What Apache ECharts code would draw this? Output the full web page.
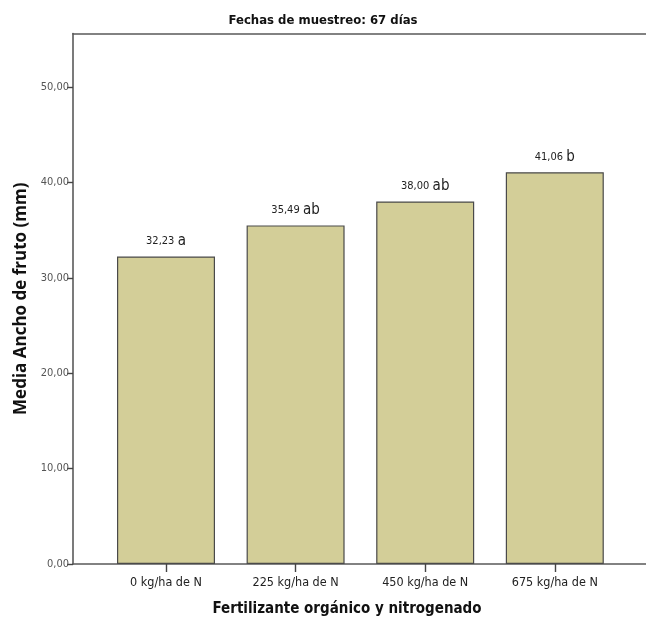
<!DOCTYPE html>
<html>
<head>
<meta charset="utf-8">
<script src="https://cdn.jsdelivr.net/npm/echarts@6/dist/echarts.min.js"></script>
<style>
  html, body { margin: 0; padding: 0; background: #fff; }
  #chart { width: 646px; height: 624px; }
</style>
</head>
<body>
<div id="chart"></div>
<script>
// Mean fruit width by fertilizer dose (67 days)
const categories = ['0 kg/ha de N', '225 kg/ha de N', '450 kg/ha de N', '675 kg/ha de N'];
const meanWidth = [32.23, 35.49, 38.00, 41.06];
const groupLetters = ['a', 'ab', 'ab', 'b'];
const yTicks = [0, 10, 20, 30, 40, 50];

const NARROW = '"Liberation Sans Narrow", "DejaVu Sans Condensed", "Liberation Sans", sans-serif';
const fmt = v => v.toFixed(2).replace('.', ',');

const yMax = 55.6;
const plotTop = 33.5;
const plotBottom = 60;

const chart = echarts.init(document.getElementById('chart'));
chart.setOption({
  animation: false,
  backgroundColor: '#ffffff',
  title: [
    {
      text: 'Fechas de muestreo: 67 días',
      left: 'center',
      top: 9,
      textStyle: { fontFamily: NARROW, fontSize: 13, fontWeight: 'bold', color: '#111' }
    },
    { // x-axis caption
      text: 'Fertilizante orgánico y nitrogenado',
      left: 342,
      textAlign: 'center',
      top: 597,
      textStyle: { fontFamily: NARROW, fontSize: 15, fontWeight: 'bold', color: '#111' }
    }
  ],
  grid: [
    { left: 73, right: -20, top: plotTop, bottom: plotBottom },
    { left: 101.2, width: 518.4, top: plotTop, bottom: plotBottom }
  ],
  xAxis: [
    { // frame: bottom line
      gridIndex: 0, type: 'value', min: 0, max: 1, position: 'bottom',
      axisLine: { show: true, lineStyle: { color: '#5a5a5a', width: 1.6 } },
      axisTick: { show: false }, axisLabel: { show: false }, splitLine: { show: false }
    },
    { // frame: top line
      gridIndex: 0, type: 'value', min: 0, max: 1, position: 'top',
      axisLine: { show: true, lineStyle: { color: '#5a5a5a', width: 1.6 } },
      axisTick: { show: false }, axisLabel: { show: false }, splitLine: { show: false }
    },
    { // categories
      gridIndex: 1, type: 'category', data: categories, position: 'bottom',
      axisLine: { show: false },
      axisTick: { show: true, alignWithLabel: true, length: 8, lineStyle: { color: '#444', width: 1.4 } },
      axisLabel: { fontFamily: NARROW, fontSize: 12.5, color: '#222', margin: 12 }
    }
  ],
  yAxis: [
    {
      gridIndex: 0, type: 'value', min: 0, max: yMax,
      axisLine: { show: true, lineStyle: { color: '#5a5a5a', width: 1.6 } },
      axisTick: { show: true, length: 6, customValues: yTicks, lineStyle: { color: '#444', width: 1.4 } },
      axisLabel: { customValues: yTicks, formatter: v => fmt(v), fontFamily: NARROW, fontSize: 11, color: '#555', margin: 4 },
      splitLine: { show: false },
      name: 'Media Ancho de fruto (mm)',
      nameLocation: 'middle',
      nameGap: 42,
      nameRotate: 90,
      nameTextStyle: { fontFamily: '"Open Sans", "Liberation Sans", sans-serif', fontSize: 17, fontWeight: 'bold', color: '#111' }
    },
    {
      gridIndex: 1, type: 'value', min: 0, max: yMax, show: false
    }
  ],
  series: [{
    type: 'bar',
    xAxisIndex: 2,
    yAxisIndex: 1,
    barWidth: 98,
    data: meanWidth.map((v, i) => ({
      value: v,
      label: {
        show: true,
        position: 'top',
        distance: 8,
        formatter: '{v|' + fmt(v) + '} {l|' + groupLetters[i] + '}',
        rich: {
          v: { fontFamily: NARROW, fontSize: 11, color: '#222' },
          l: { fontFamily: NARROW, fontSize: 15, color: '#222' }
        }
      }
    })),
    itemStyle: { color: '#d3ce98', borderColor: '#4a4a4a', borderWidth: 1.2 }
  }]
});
</script>
</body>
</html>
